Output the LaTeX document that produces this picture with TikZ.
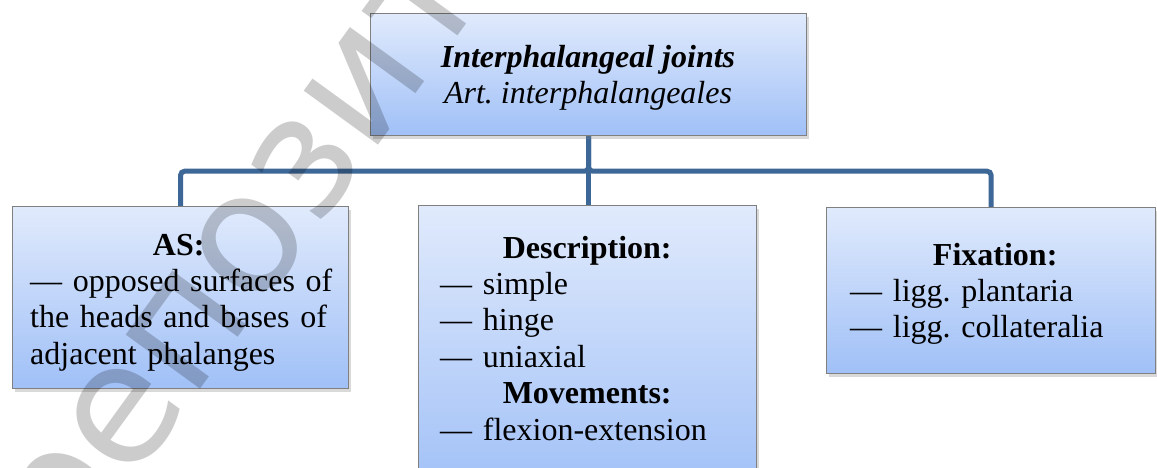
\documentclass[tikz,border=0pt]{standalone}
\usepackage{fontspec}
\setmainfont{Liberation Serif}
\newfontfamily\wmfont{DejaVu Sans}
\usetikzlibrary{shadows,backgrounds}
\setlength{\parindent}{0pt}
\frenchspacing

\definecolor{linkblue}{RGB}{61,103,150}
\definecolor{boxtop}{RGB}{224,234,252}
\definecolor{boxbot}{RGB}{160,192,247}
\definecolor{boxedge}{RGB}{128,128,128}

\tikzset{
  box/.style={draw=boxedge, line width=1.2pt, top color=boxtop, bottom color=boxbot,
    drop shadow={opacity=0.3, shadow xshift=2pt, shadow yshift=-3pt},
    inner sep=0pt, anchor=north west},
  link/.style={draw=linkblue, line width=5pt, rounded corners=4pt},
  txt/.style={inner sep=0pt, anchor=north west, align=left,
    font=\fontsize{32}{36.4}\selectfont},
  wmark/.style={inner sep=0pt, text=black, text opacity=0.2,
    font=\wmfont\fontsize{168}{168}\selectfont}
}

\begin{document}
\begin{tikzpicture}[x=1pt,y=-1pt]
\useasboundingbox (0,0) rectangle (1157,467);
\clip (0,0) rectangle (1157,467);

% boxes
\node[box, minimum width=436pt, minimum height=122pt] (top) at (370,13) {};
\node[box, minimum width=336pt, minimum height=182pt] (as) at (12,206) {};
\node[box, minimum width=338pt, minimum height=290pt] (desc) at (418,205) {};
\node[box, minimum width=329pt, minimum height=166pt] (fix) at (826,207) {};

% connectors
\begin{scope}[on background layer]
  \draw[link] (top.south) -- (top.south |- desc.north);
  \draw[link] (top.south) -- ++(0,35) -| (as.north);
  \draw[link] (top.south) -- ++(0,35) -| (fix.north);
\end{scope}

% texts
\node[inner sep=0pt, anchor=north, align=center, font=\fontsize{32}{36}\selectfont]
  (toptext) at (588,42.5)
  {\strut\textbf{\textit{Interphalangeal joints}}\\ \textit{Art. interphalangeales}};

\node[txt, text width=297pt] (astext) at (30,229.5)
  {\strut\makebox[\linewidth]{\textbf{AS:}}\\
   \makebox[\linewidth][s]{— opposed surfaces of}\\
   \makebox[\linewidth][s]{the heads and bases of}\\
   adjacent phalanges};

\node[txt, text width=294pt] (desctext) at (440,232.5)
  {\strut\makebox[\linewidth]{\textbf{Description:}}\\
   — simple\\
   — hinge\\
   — uniaxial\\
   \makebox[\linewidth]{\textbf{Movements:}}\\
   — flexion-extension};

\node[txt, text width=290pt] (fixtext) at (850,239.5)
  {\strut\makebox[\linewidth]{\textbf{Fixation:}}\\
   — ligg. plantaria\\
   — ligg. collateralia};

% watermark
\node[wmark, rotate=54, anchor=base west] (wm) at (68,572) {репозиторий};
\end{tikzpicture}
\end{document}
